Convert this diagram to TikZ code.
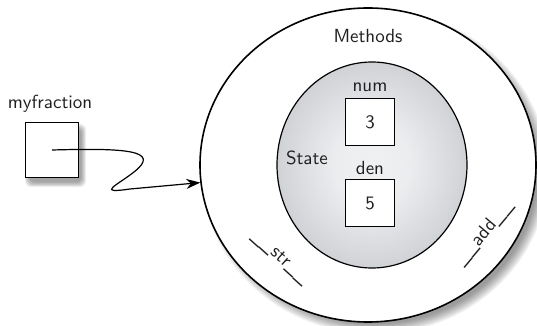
\documentclass[tikz,border=0pt]{standalone}
\usepackage{fontspec}
\usetikzlibrary{shapes.geometric,arrows.meta}
\definecolor{edgegray}{HTML}{A2A6AC}
\definecolor{centergray}{HTML}{F0F1F3}
\pgfdeclareradialshading{stateshade}{\pgfpoint{0bp}{0bp}}{%
  color(0bp)=(centergray); color(10bp)=(centergray!94!edgegray); color(50bp)=(edgegray)}
\begin{document}
\begin{tikzpicture}[x=0.5pt,y=-0.5pt,
  every node/.style={font=\fontsize{9.5}{11}\selectfont\sffamily, text=black!88},
  valbox/.style={draw, line width=0.6pt, fill=white, minimum width=24.5pt, minimum height=23.5pt, inner sep=0pt},
  lbl/.style={inner sep=0pt}]
\useasboundingbox (0,0) rectangle (537,326);
% outer shadow
\foreach \i in {0,...,7}{
  \fill[black, opacity=0.06] (375,172) ellipse ({168+5-\i*1.4} and {157+5-\i*1.4});
}
\node[ellipse, draw, line width=0.8pt, fill=white, minimum width=168pt, minimum height=157pt, inner sep=0pt] (outer) at (368,165) {};
\node[ellipse, draw, line width=0.6pt, shading=stateshade, minimum width=95pt, minimum height=103pt, inner sep=0pt] (state) at (372,165) {};
\node[lbl] (methods) at (368,36) {Methods};
\node[lbl] (statelbl) at (307,158) {State};
\node[lbl] (numlbl) at (370,87) {num};
\node[lbl] (denlbl) at (370,168) {den};
\node[valbox] (num) at (370,122) {3};
\node[valbox] (den) at (370,203) {5};
\node[lbl, rotate=-42] (str) at (280,258) {\_\_str\_\_};
\node[lbl, rotate=50] (add) at (484,233) {\_\_add\_\_};
% myfraction box with shadow
\foreach \i in {0,...,5}{
  \fill[black, opacity=0.07, rounded corners=3pt] ({25+\i*0.9},{124+\i*0.9}) rectangle ({86-\i*0.9},{187-\i*0.9});
}
\node[lbl] (mflbl) at (50,104) {myfraction};
\node[draw, line width=0.6pt, fill=white, minimum width=26.5pt, minimum height=27.5pt, inner sep=0pt] (mf) at (52,150) {};
\coordinate (c1) at (134,172);
\coordinate (c2) at (130,189);
\draw[line width=0.6pt, -{Stealth[length=7pt,width=5pt]}]
  (mf.center) .. controls (125,148) and (162,150) .. (c1)
  .. controls (116,186) and (96,194) .. (c2) -- (outer.186);
\end{tikzpicture}
\end{document}
